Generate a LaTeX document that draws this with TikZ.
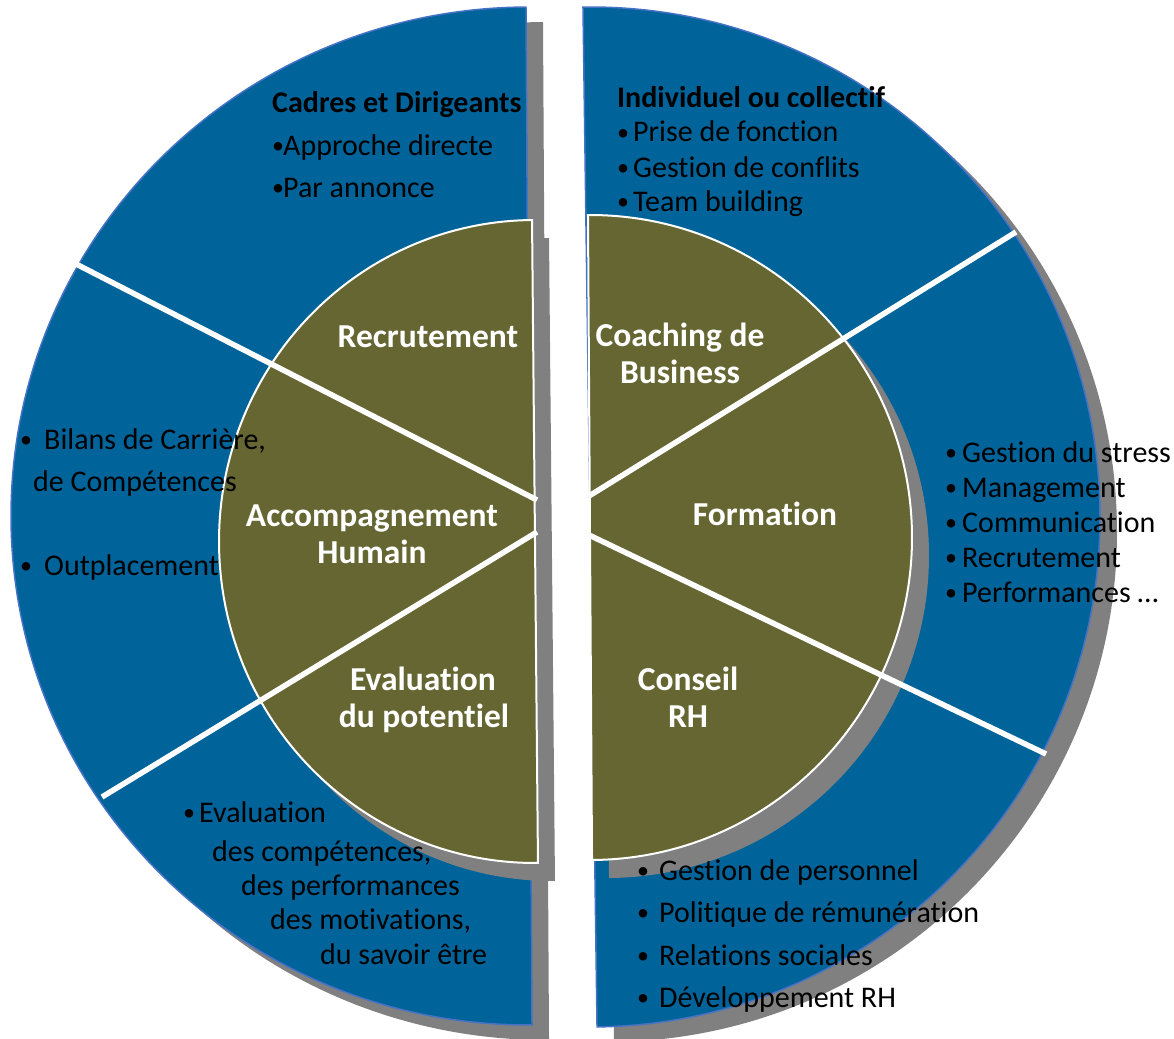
\documentclass[tikz,border=0pt]{standalone}
\usepackage{fontspec}
\setmainfont[Ligatures={NoCommon}]{Carlito}
\definecolor{blueseg}{RGB}{0,99,153}
\definecolor{oliveseg}{RGB}{102,102,51}
\definecolor{shadowgray}{RGB}{128,128,128}
\definecolor{edgeblue}{RGB}{68,114,196}
\newcommand{\smallbul}{\raisebox{1.5pt}{\fontsize{24}{24}\selectfont •}}
\begin{document}
\begin{tikzpicture}[x=1pt,y=-1pt,
  outertxt/.style={anchor=base west, inner sep=0pt, font=\fontsize{30}{36}\selectfont, text=black},
  outerhead/.style={outertxt, font=\fontsize{30}{36}\selectfont\bfseries},
  bul/.style={anchor=base west, inner sep=0pt, text=black},
  innertxt/.style={anchor=base, inner sep=0pt, font=\fontsize{33.5}{40}\selectfont\bfseries, text=white},
  divider/.style={white, line width=5.5pt},
  shadowfill/.style={fill=shadowgray},
  outerfill/.style={fill=blueseg, draw=edgeblue, line width=1.5pt},
  innerfill/.style={fill=oliveseg, draw=white, line width=2pt},
]
\useasboundingbox (0,0) rectangle (1174,1038);
% outer shadows
\fill[shadowfill, shift={(17,15)}, rotate around={0.34:(529,516)}]
  (529,7) arc[start angle=270, end angle=90, x radius=518, y radius=509] -- cycle;
\fill[shadowfill, shift={(17,15)}, rotate around={0.79:(590,517)}]
  (590,7) arc[start angle=270, end angle=450, x radius=510, y radius=510] -- cycle;
% outer halves
\path[outerfill, rotate around={0.34:(529,516)}]
  (529,7) arc[start angle=270, end angle=90, x radius=518, y radius=509] -- cycle;
\path[outerfill, rotate around={0.79:(590,517)}]
  (590,7) arc[start angle=270, end angle=450, x radius=510, y radius=510] -- cycle;
% inner shadows
\fill[shadowfill, shift={(17,18)}, rotate around={0.53:(535,541.5)}]
  (535,220) arc[start angle=270, end angle=90, x radius=316, y radius=321.5] -- cycle;
\fill[shadowfill, shift={(17,18)}, rotate around={0.36:(590,537.5)}]
  (590,215) arc[start angle=270, end angle=450, x radius=322, y radius=322.5] -- cycle;
% inner halves
\path[innerfill, rotate around={0.53:(535,541.5)}]
  (535,220) arc[start angle=270, end angle=90, x radius=316, y radius=321.5] -- cycle;
\path[innerfill, rotate around={0.36:(590,537.5)}]
  (590,215) arc[start angle=270, end angle=450, x radius=322, y radius=322.5] -- cycle;
% dividers
\coordinate (lu0) at (537,500); \coordinate (lu1) at (76,264);
\coordinate (ll0) at (537,532); \coordinate (ll1) at (102,797);
\coordinate (ru0) at (589,496); \coordinate (ru1) at (1016,232);
\coordinate (rl0) at (589,535); \coordinate (rl1) at (1046,754);
\draw[divider] (lu0) -- (lu1);
\draw[divider] (ll0) -- (ll1);
\draw[divider] (ru0) -- (ru1);
\draw[divider] (rl0) -- (rl1);
% inner labels
\node[innertxt] (recr) at (428,347) {Recrutement};
\node[innertxt] (coach1) at (680,346) {Coaching de};
\node[innertxt] (coach2) at (680,383) {Business};
\node[innertxt] (acc1) at (372,526) {Accompagnement};
\node[innertxt] (acc2) at (372,563) {Humain};
\node[innertxt] (form) at (765,525) {Formation};
\node[innertxt] (eval1) at (423,690) {Evaluation};
\node[innertxt] (eval2) at (424,727) {du potentiel};
\node[innertxt] (cons1) at (688,690) {Conseil};
\node[innertxt] (cons2) at (688,727) {RH};
% top left
\node[outerhead] (cadres) at (272,113) {Cadres et Dirigeants};
\node[bul] (tlb1) at (272,155) {\smallbul};
\node[outertxt] (tlt1) at (283,155) {Approche directe};
\node[bul] (tlb2) at (272,197) {\smallbul};
\node[outertxt] (tlt2) at (283,197) {Par annonce};
% top right
\node[outerhead] (indiv) at (617,107) {Individuel ou collectif};
\node[bul] (trb1) at (617,142) {\smallbul};
\node[outertxt] (trt1) at (633,142) {Prise de fonction};
\node[bul] (trb2) at (617,177) {\smallbul};
\node[outertxt] (trt2) at (633,177) {Gestion de conflits};
\node[bul] (trb3) at (617,211) {\smallbul};
\node[outertxt] (trt3) at (633,211) {Team building};
% middle right
\node[bul] (mrb1) at (945,462) {\smallbul};
\node[outertxt] (mrt1) at (962,462) {Gestion du stress};
\node[bul] (mrb2) at (945,497) {\smallbul};
\node[outertxt] (mrt2) at (962,497) {Management};
\node[bul] (mrb3) at (945,532) {\smallbul};
\node[outertxt] (mrt3) at (962,532) {Communication};
\node[bul] (mrb4) at (945,567) {\smallbul};
\node[outertxt] (mrt4) at (962,567) {Recrutement};
\node[bul] (mrb5) at (945,602) {\smallbul};
\node[outertxt] (mrt5) at (962,602) {Performances …};
% middle left
\node[bul] (mlb1) at (20,449) {\smallbul};
\node[outertxt] (mlt1) at (44,449) {Bilans de Carrière,};
\node[outertxt] (mlt2) at (33,491) {de Compétences};
\node[bul] (mlb2) at (20,575) {\smallbul};
\node[outertxt] (mlt3) at (44,575) {Outplacement};
% bottom left
\node[bul] (blb1) at (183,822) {\smallbul};
\node[outertxt] (blt1) at (199,822) {Evaluation};
\node[outertxt] (blt2) at (212,861) {des compétences,};
\node[outertxt] (blt3) at (241,895) {des performances};
\node[outertxt] (blt4) at (270,929) {des motivations,};
\node[outertxt] (blt5) at (320,964) {du savoir être};
% bottom right
\node[bul] (brb1) at (637,880) {\smallbul};
\node[outertxt] (brt1) at (659,880) {Gestion de personnel};
\node[bul] (brb2) at (637,922) {\smallbul};
\node[outertxt] (brt2) at (659,922) {Politique de rémunération};
\node[bul] (brb3) at (637,965) {\smallbul};
\node[outertxt] (brt3) at (659,965) {Relations sociales};
\node[bul] (brb4) at (637,1007) {\smallbul};
\node[outertxt] (brt4) at (659,1007) {Développement RH};
\end{tikzpicture}
\end{document}
